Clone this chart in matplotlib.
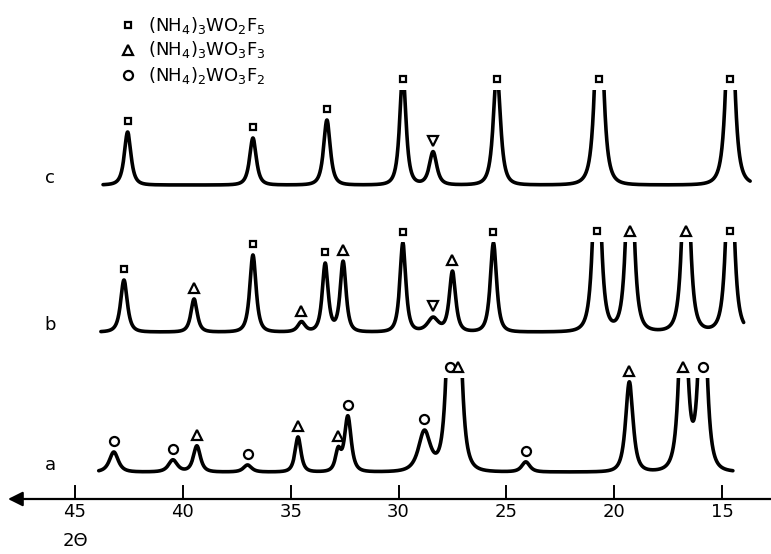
import numpy as np
import matplotlib
matplotlib.use('Agg')
import matplotlib.pyplot as plt
from matplotlib.patches import Rectangle

# ---- data: peak 2theta, height, half width, phase marker ----
# phases: s = (NH4)3WO2F5, t = (NH4)3WO3F3, o = (NH4)2WO3F2, v = unknown
c_pos = [42.56, 36.75, 33.32, 29.80, 28.40, 25.44, 20.70, 14.62]
c_height = [53, 47, 65, 112, 33, 115, 220, 220]
c_width = [0.18, 0.18, 0.18, 0.17, 0.20, 0.19, 0.20, 0.20]
c_phase = ['s', 's', 's', 's', 'v', 's', 's', 's']

b_pos = [42.73, 39.48, 36.75, 34.50, 33.40, 32.57, 29.80, 28.40, 27.50, 25.60,
         20.80, 19.27, 16.67, 14.63]
b_height = [52, 33, 77, 10, 68, 70, 89, 14, 60, 89, 210, 210, 210, 210]
b_width = [0.18, 0.17, 0.17, 0.20, 0.16, 0.16, 0.16, 0.30, 0.17, 0.17,
           0.19, 0.19, 0.19, 0.19]
b_phase = ['s', 't', 's', 't', 's', 't', 's', 'v', 't', 's', 's', 't', 't', 's']

a_pos = [43.20, 40.46, 39.35, 37.00, 34.66, 32.80, 32.35, 28.80, 27.60, 27.25,
         24.10, 19.30, 16.80, 15.90]
a_height = [20, 12, 26, 7, 35, 20, 55, 40, 170, 170, 10, 90, 210, 210]
a_width = [0.24, 0.24, 0.19, 0.22, 0.16, 0.15, 0.18, 0.32, 0.20, 0.20,
           0.22, 0.20, 0.20, 0.20]
a_phase = ['o', 'o', 't', 'o', 't', 't', 'o', 'o', 'o', 't', 'o', 't', 't', 'o']

ticks = [45, 40, 35, 30, 25, 20, 15]
legend_labels = [r'(NH$_4$)$_3$WO$_2$F$_5$', r'(NH$_4$)$_3$WO$_3$F$_3$',
                 r'(NH$_4$)$_2$WO$_3$F$_2$']

# ---- layout (pixel based) ----
W, H = 771, 554
PX_PER_DEG = 21.57


def px2t(x):
    return 45 - (x - 75) / PX_PER_DEG


def py(y):
    return H - y


def profile(x, pos, height, width, m=1.6):
    # Pearson VII peak shape, width = half width at half maximum
    k = 2 ** (1 / m) - 1
    y = np.zeros_like(x)
    for p, h, w in zip(pos, height, width):
        y += h / (1 + k * ((x - p) / w) ** 2) ** m
    return y


fig = plt.figure(figsize=(W / 100, H / 100), dpi=100)
ax = fig.add_axes([0, 0, 1, 1])
ax.set_xlim(px2t(0), px2t(W))
ax.set_ylim(0, H)
ax.axis('off')

marker_style = {'s': ('s', 5.0), 't': ('^', 6.5), 'o': ('o', 6.5), 'v': ('v', 6.5)}

traces = [
    # label, baseline px, clip height, x start, x end, data
    ('c', 185, 95, 43.7, 13.7, c_pos, c_height, c_width, c_phase),
    ('b', 332, 90, 43.8, 14.0, b_pos, b_height, b_width, b_phase),
    ('a', 472, 94, 43.9, 14.5, a_pos, a_height, a_width, a_phase),
]

for lab, base, clip, x0, x1, pos, hgt, wid, ph in traces:
    x = np.linspace(x1, x0, 5000)
    y = py(base) + profile(x, pos, hgt, wid)
    line, = ax.plot(x, y, color='black', lw=2.6, solid_capstyle='round',
                    solid_joinstyle='round')
    rect = Rectangle((x1 - 1, 0), x0 - x1 + 2, py(base) + clip, transform=ax.transData)
    line.set_clip_path(rect)
    for p, f in zip(pos, ph):
        top = min(py(base) + profile(np.array([p]), pos, hgt, wid)[0], py(base) + clip)
        m, s = marker_style[f]
        ax.plot(p, top + 11, marker=m, ms=s, mfc='white', mec='black', mew=1.6)
    ax.text(px2t(50), py(base - 2), lab, fontsize=13, ha='center', va='baseline')

# legend at top left
for i, (m, lab) in enumerate(zip(['s', 't', 'o'], legend_labels)):
    yy = py(25 + 25 * i)
    mk, s = marker_style[m]
    ax.plot(px2t(128), yy, marker=mk, ms=s, mfc='white', mec='black', mew=1.6)
    ax.text(px2t(148), yy, lab, fontsize=13, ha='left', va='center')

# 2theta axis with arrow pointing to the left
ax.annotate('', xy=(px2t(8), py(499)), xytext=(px2t(W), py(499)),
            arrowprops=dict(arrowstyle='-|>', color='black', lw=1.6,
                            mutation_scale=22, shrinkA=0, shrinkB=0))
for t in ticks:
    ax.plot([t, t], [py(499), py(486)], color='black', lw=1.4)
    ax.text(t, py(512), str(t), fontsize=13, ha='center', va='center')
ax.text(45, py(541), '2\u0398', fontsize=13, ha='center', va='center')

fig.savefig('out.png', dpi=100)
